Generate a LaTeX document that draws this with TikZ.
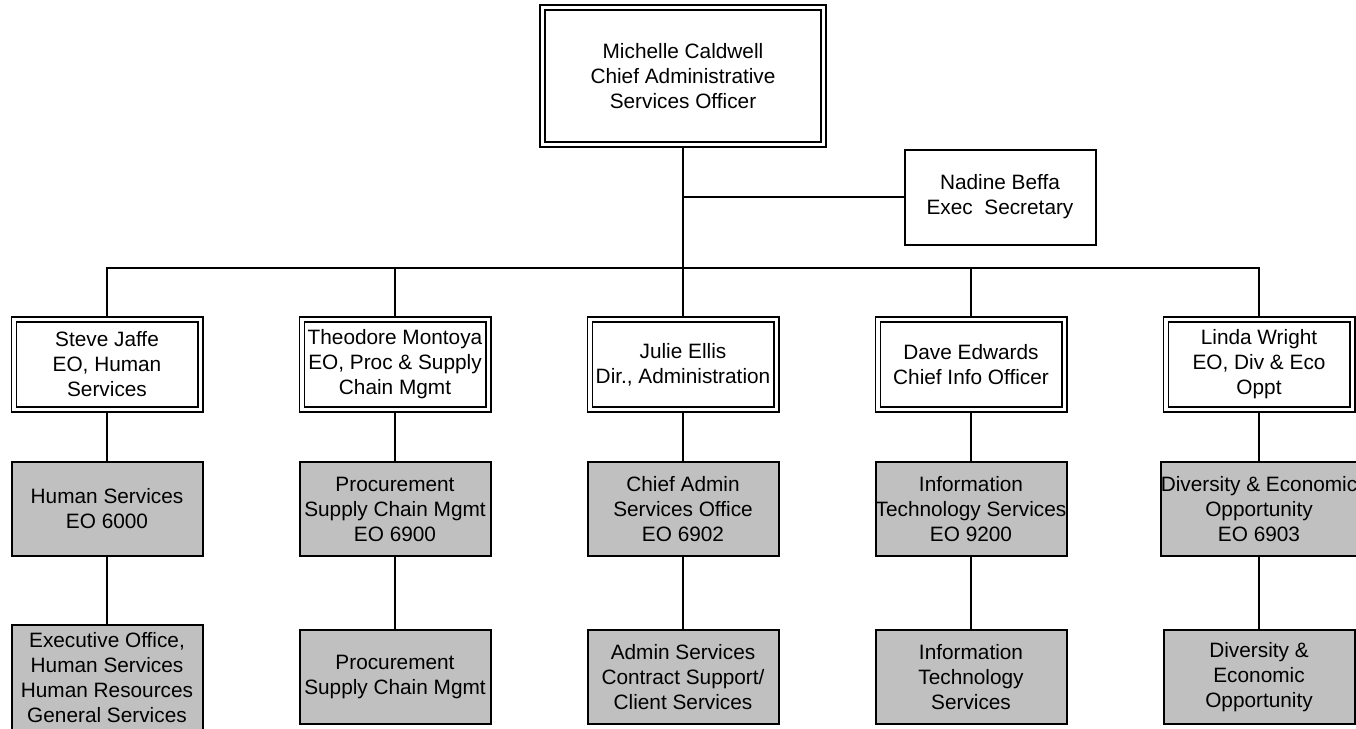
\documentclass[tikz,border=0pt]{standalone}
\usepackage{fontspec}
\setmainfont{Liberation Sans}
\usetikzlibrary{backgrounds}
\begin{document}
\begin{tikzpicture}[x=1pt,y=-1pt,
  every node/.style={font=\fontsize{20.8}{25}\selectfont, align=center, inner sep=0pt},
  dbox/.style={draw, fill=white, double, double distance=3.4pt, line width=1.6pt},
  topbox/.style={dbox, minimum width=281.4pt, minimum height=137.4pt},
  headbox/.style={dbox, minimum width=186.4pt, minimum height=90.4pt},
  plainbox/.style={draw, fill=white, line width=2pt, minimum width=191pt, minimum height=95pt},
  graybox/.style={draw, fill=boxgray, line width=2pt, minimum width=191pt, minimum height=94pt},
  link/.style={line width=2pt}]
\definecolor{boxgray}{RGB}{192,192,192}
\useasboundingbox (0,0) rectangle (1356,728);

\node[topbox] (top) at (683,76) {Michelle Caldwell\\Chief Administrative\\Services Officer};
\node[plainbox] (sec) at (1000,197) {Nadine Beffa\\Exec\ \ Secretary};

\node[headbox] (h1) at (107,364.5) {Steve Jaffe\\EO, Human\\Services};
\node[headbox] (h2) at (395,364.5) {Theodore Montoya\\EO, Proc \& Supply\\Chain Mgmt};
\node[headbox] (h3) at (683,364.5) {Julie Ellis\\Dir., Administration};
\node[headbox] (h4) at (971,364.5) {Dave Edwards\\Chief Info Officer};
\node[headbox] (h5) at (1259,364.5) {Linda Wright\\EO, Div \& Eco\\Oppt};

\node[graybox] (g1) at (107,509) {Human Services\\EO 6000};
\node[graybox] (g2) at (395,509) {Procurement\\Supply Chain Mgmt\\EO 6900};
\node[graybox] (g3) at (683,509) {Chief Admin\\Services Office\\EO 6902};
\node[graybox] (g4) at (971,509) {Information\\Technology Services\\EO 9200};
\node[graybox] (g5) at (1259,509) {Diversity \& Economic\\Opportunity\\EO 6903};

\node[graybox, minimum height=106pt] (u1) at (107,678) {Executive Office,\\Human Services\\Human Resources\\General Services};
\node[graybox] (u2) at (395,677) {Procurement\\Supply Chain Mgmt};
\node[graybox] (u3) at (683,677) {Admin Services\\Contract Support/\\Client Services};
\node[graybox] (u4) at (971,677) {Information\\Technology\\Services};
\node[graybox] (u5) at (1259,677) {Diversity \&\\Economic\\Opportunity};

\coordinate (bar) at (683,268);

\begin{pgfonlayer}{background}
\draw[link] (top.south) -- (bar);
\draw[link] (sec.west) -- (sec.west -| top.south);
\draw[link] (h1.north) |- (bar) -| (h5.north);
\draw[link] (h2.north) -- (h2.north |- bar);
\draw[link] (h3.north) -- (bar);
\draw[link] (h4.north) -- (h4.north |- bar);
\foreach \i in {1,...,5} {
  \draw[link] (h\i.south) -- (g\i.north);
  \draw[link] (g\i.south) -- (u\i.north);
}
\end{pgfonlayer}
\end{tikzpicture}
\end{document}
